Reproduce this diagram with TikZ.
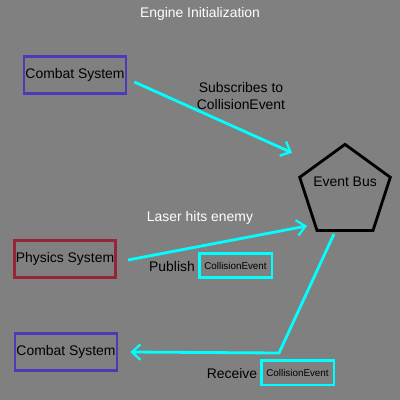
\documentclass[tikz,border=0pt]{standalone}
\usepackage{fontspec}
\setmainfont{Liberation Sans}
\usepackage{tikz}
\usetikzlibrary{arrows.meta, shapes.geometric}
\definecolor{bg}{RGB}{128,128,128}
\definecolor{combat}{RGB}{74,60,184}
\definecolor{physics}{RGB}{152,36,56}
\definecolor{wire}{RGB}{0,255,255}
\tikzset{font=\fontsize{9.9}{11.8}\selectfont,
  system/.style={draw, line width=2pt, minimum width=2.5cm, minimum height=0.94cm, inner sep=1pt},
  bus/.style={draw=black, regular polygon, regular polygon sides=5, line width=2pt, minimum size=2.38cm, inner sep=0pt},
  evbox/.style={draw=wire, line width=2pt, minimum width=1.82cm, minimum height=0.62cm, font=\fontsize{7}{8}\selectfont},
  flow/.style={draw=wire, line width=2pt, -{Straight Barb[length=6pt, width=11pt, line width=1.6pt]}}}

\begin{document}
\begin{tikzpicture}[x=0.025cm, y=-0.025cm]
            \fill[bg] (0,0) rectangle (400,400);
            \node[text=white] (title) at (200,14) {Engine Initialization};
            \node[system, draw=combat] (combat1) at (75,75) {Combat System};
            \node[bus, label={[yshift=0.25cm]center:Event Bus}] (bus) at (345,192) {};
            \node[system, draw=physics] (physics) at (65,259) {Physics System};
            \node[system, draw=combat] (combat2) at (66,352) {Combat System};
            \coordinate (turn) at (279,353);
            
            \node[align=center] (subs) at (241,96) {Subscribes to\\CollisionEvent};
            \node[text=white] (laser) at (200,218) {Laser hits enemy};
            \node (publish) at (172,267) {Publish};
            \node[evbox] (ev1) at (235.5,265.5) {CollisionEvent};
            \node (receive) at (232,374) {Receive};
            \node[evbox] (ev2) at (297.5,372.5) {CollisionEvent};
            
            \draw[flow] ([shift={(7,7)}]combat1.east) -- ([shift={(-6,-24)}]bus.corner 2);
            \draw[flow] ([shift={(11,1)}]physics.east) -- ([shift={(-9,-6)}]bus.corner 3);
            \draw[flow] ([shift={(-11,2)}]bus.south) -- (turn) -- ([xshift=0.3cm]combat2.east);
        \end{tikzpicture}
\end{document}
